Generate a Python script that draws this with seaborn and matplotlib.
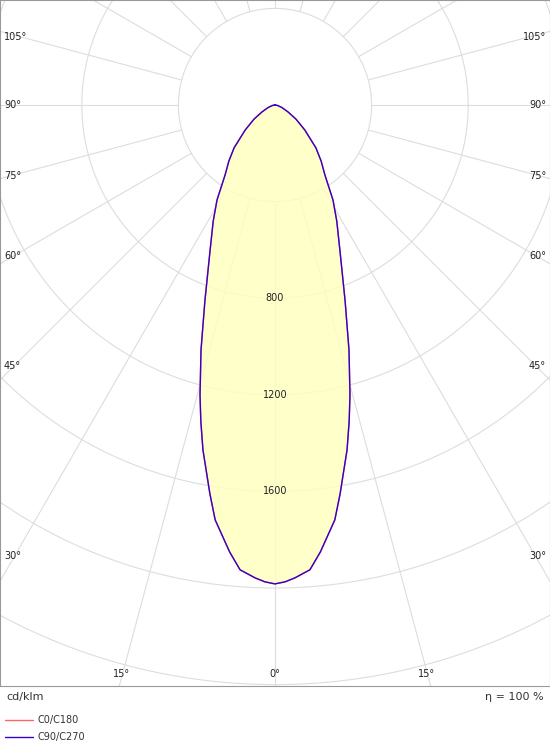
import numpy as np
import matplotlib
matplotlib.use("Agg")
import matplotlib.pyplot as plt
import seaborn as sns
import pandas as pd

angles_deg = [0, 1.2, 2.4, 4.3, 5.8, 8.2, 9.5, 11.8, 13.2, 14.5, 16.8, 19.7, 24.1, 28, 31.4, 35.5, 39.5, 43.7, 50, 56, 62, 70, 80, 90]
intensity = [1983, 1975, 1960, 1930, 1860, 1736, 1633, 1459, 1345, 1240, 1060, 861, 658, 545, 461, 356, 300, 245, 161, 105, 61, 30, 10, 0]
ring_values = [400, 800, 1200, 1600, 2000, 2400, 2800, 3200]
ring_labels = ["800", "1200", "1600"]
angle_labels = [0, 15, 30, 45, 60, 75, 90, 105]

sns.set_style("white")
plt.rcParams['font.family'] = ['DejaVu Sans']
S = 0.2415  # px per cd
fig = plt.figure(figsize=(5.5, 7.5), dpi=100)
ax = fig.add_axes([0, 64/750, 1, 686/750])
ax.set_xlim(-275/S, 275/S)
ax.set_ylim(-581/S, 105/S)
ax.set_xticks([]); ax.set_yticks([])
for s in ax.spines.values():
    s.set_color('#999999'); s.set_linewidth(0.8)

g = '#dddddd'
t = np.linspace(0, 2*np.pi, 400)
for r in ring_values:
    ax.plot(r*np.cos(t), r*np.sin(t), color=g, lw=0.8, zorder=1)
for a in range(0, 360, 15):
    ar = np.radians(a)
    ax.plot([400*np.sin(ar), 5000*np.sin(ar)], [-400*np.cos(ar), -5000*np.cos(ar)], color=g, lw=0.8, zorder=1)

th = np.radians(np.array(angles_deg))
I = np.array(intensity)
full_th = np.concatenate([-th[::-1], th[1:]])
full_I = np.concatenate([I[::-1], I[1:]])
x = full_I*np.sin(full_th); y = -full_I*np.cos(full_th)
ax.fill(x, y, color='#ffffc0', alpha=0.85, zorder=2)
df = pd.DataFrame({'x': x, 'y': y})
sns.lineplot(data=df, x='x', y='y', sort=False, color='#ff6666', lw=1.0, ax=ax, zorder=3, estimator=None)
sns.lineplot(data=df, x='x', y='y', sort=False, color='#3300cc', lw=1.0, ax=ax, zorder=4, estimator=None)
ax.set_xlabel(''); ax.set_ylabel('')

for lab in ring_labels:
    v = float(lab)
    ax.text(0, -v, lab, ha='center', va='center', fontsize=7, color='#222222', zorder=5)

def px(xp, yp):
    return ((xp-275)/S, (105-yp)/S)
side = {30: 556, 45: 366, 60: 256, 75: 176, 90: 105, 105: 37}
for a in angle_labels:
    if a == 0:
        ax.text(*px(275, 674), "0°", ha='center', va='center', fontsize=7, color='#222222')
    elif a == 15:
        ax.text(*px(122, 674), "15°", ha='center', va='center', fontsize=7, color='#222222')
        ax.text(*px(427, 674), "15°", ha='center', va='center', fontsize=7, color='#222222')
    else:
        ax.text(*px(4, side[a]), f"{a}°", ha='left', va='center', fontsize=7, color='#222222')
        ax.text(*px(546, side[a]), f"{a}°", ha='right', va='center', fontsize=7, color='#222222')

fig.text(6/550, 1-697/750, "cd/klm", ha='left', va='center', fontsize=8, color='#333333')
fig.text(544/550, 1-697/750, "η = 100 %", ha='right', va='center', fontsize=8, color='#333333')
for yy, col, lab in [(720, '#ff6666', 'C0/C180'), (737, '#3300cc', 'C90/C270')]:
    fig.add_artist(plt.Line2D([5/550, 33/550], [1-yy/750]*2, color=col, lw=1))
    fig.text(38/550, 1-yy/750, lab, ha='left', va='center', fontsize=7, color='#333333')

fig.savefig("out.png", dpi=100)
